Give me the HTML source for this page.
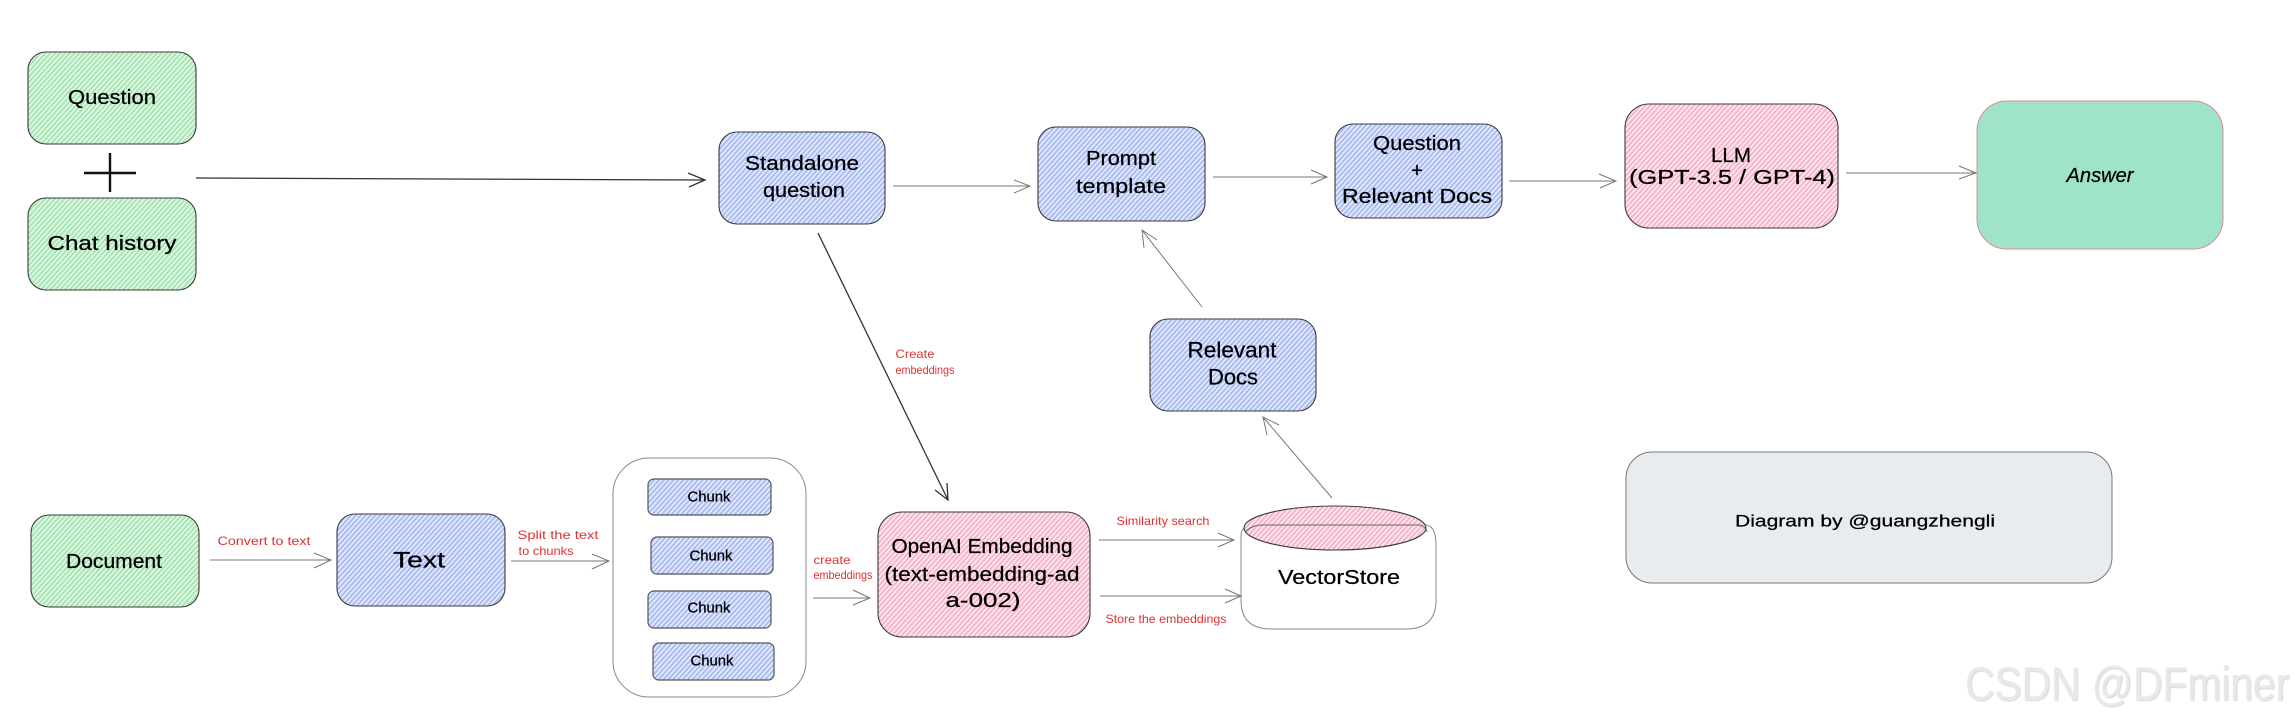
<!DOCTYPE html>
<html>
<head>
<meta charset="utf-8">
<style>
html,body{margin:0;padding:0;background:#fff;width:2295px;height:723px;overflow:hidden}
svg{display:block}
text{font-family:"Liberation Sans",sans-serif;text-anchor:middle;dominant-baseline:central;fill:#000;stroke:#000;stroke-width:.25}
.r{fill:#e03131;stroke:none;font-size:12px}
.m{font-size:20px}
.l{font-size:22px}
.a{fill:none;stroke:#777;stroke-width:1}
.d{fill:none;stroke:#333;stroke-width:1.3}
</style>
</head>
<body>
<svg width="2295" height="723" viewBox="0 0 2295 723" xmlns="http://www.w3.org/2000/svg">
<defs>
<pattern id="g" width="3.6" height="7" patternUnits="userSpaceOnUse" patternTransform="rotate(42)"><rect width="3.6" height="7" fill="#e4f8e7"/><rect width="1.9" height="7" fill="#a5e5b2"/></pattern>
<pattern id="b" width="3.6" height="7" patternUnits="userSpaceOnUse" patternTransform="rotate(42)"><rect width="3.6" height="7" fill="#e6ebfd"/><rect width="1.9" height="7" fill="#a9bcf2"/></pattern>
<pattern id="p" width="3.6" height="7" patternUnits="userSpaceOnUse" patternTransform="rotate(42)"><rect width="3.6" height="7" fill="#fdeaf0"/><rect width="1.9" height="7" fill="#f7b3c8"/></pattern>
<filter id="wm" x="-5%" y="-20%" width="110%" height="140%"><feDropShadow dx=".8" dy=".8" stdDeviation=".5" flood-color="#bbb" flood-opacity=".7"/></filter>
</defs>
<g stroke="#3a3a3a" stroke-width="1.1">
<rect x="28" y="52" width="168" height="92" rx="18" fill="url(#g)"/>
<rect x="28" y="198" width="168" height="92" rx="18" fill="url(#g)"/>
<rect x="31" y="515" width="168" height="92" rx="18" fill="url(#g)"/>
<rect x="719" y="132" width="166" height="92" rx="18" fill="url(#b)"/>
<rect x="1038" y="127" width="167" height="94" rx="18" fill="url(#b)"/>
<rect x="1335" y="124" width="167" height="94" rx="18" fill="url(#b)"/>
<rect x="1150" y="319" width="166" height="92" rx="18" fill="url(#b)"/>
<rect x="337" y="514" width="168" height="92" rx="18" fill="url(#b)"/>
<rect x="1625" y="104" width="213" height="124" rx="24" fill="url(#p)"/>
<rect x="878" y="512" width="212" height="125" rx="24" fill="url(#p)"/>
</g>
<rect x="1977" y="101" width="246" height="148" rx="30" fill="#9fe3c9" stroke="#d98f8f" stroke-width="1"/>
<rect x="1626" y="452" width="486" height="131" rx="26" fill="#e9ecef" stroke="#777" stroke-width="1"/>
<rect x="613" y="458" width="193" height="239" rx="36" fill="#fff" stroke="#888" stroke-width="1"/>
<g stroke="#555" stroke-width="1.2">
<rect x="648" y="479" width="123" height="36" rx="6" fill="url(#b)"/>
<rect x="651" y="537" width="122" height="37" rx="6" fill="url(#b)"/>
<rect x="648" y="591" width="123" height="37" rx="6" fill="url(#b)"/>
<rect x="653" y="643" width="121" height="37" rx="6" fill="url(#b)"/>
</g>
<path d="M1241 535 Q1241 525 1256 525 L1425 525 Q1436 525 1436 545 L1436 600 Q1436 629 1406 629 L1271 629 Q1241 629 1241 600 Z" fill="#fff" stroke="#888" stroke-width="1"/>
<ellipse cx="1335" cy="528" rx="91" ry="22" fill="url(#p)" stroke="#3a3a3a" stroke-width="1.1"/>
<path d="M1245 532 Q1252 525 1262 525 L1420 525 Q1426 527 1427 532" fill="none" stroke="#666" stroke-width="1"/>
<path d="M84 173 H136 M110 153 V192" fill="none" stroke="#111" stroke-width="2.4"/>
<path class="d" d="M196 178 L705 180 M688 173 L705 180 L689 187"/>
<path class="a" d="M893 186 H1030 M1014 180 L1030 186 L1014 193"/>
<path class="a" d="M1213 177 H1327 M1311 170 L1327 177 L1311 184"/>
<path class="a" d="M1509 181 H1616 M1599 174 L1616 181 L1600 188"/>
<path class="a" d="M1846 173 H1976 M1959 166 L1976 173 L1959 179"/>
<path class="a" d="M1202 307 L1142 230 M1144 248 L1142 230 L1157 240"/>
<path class="a" d="M1332 498 L1263 417 M1267 435 L1263 417 L1279 425"/>
<path class="d" d="M818 233 L948 500 M935 490 L948 500 L947 483"/>
<path class="a" d="M210 560 H331 M314 553 L331 560 L314 568"/>
<path class="a" d="M511 561 H609 M592 554 L609 561 L592 569"/>
<path class="a" d="M813 598 H870 M853 590 L870 598 L853 605"/>
<path class="a" d="M1099 540 H1234 M1218 533 L1234 540 L1218 547"/>
<path class="a" d="M1100 596 H1241 M1225 589 L1241 596 L1225 603"/>

<g transform="translate(0,1)">
<text class="m" x="112" y="97" textLength="88" lengthAdjust="spacingAndGlyphs">Question</text>
<text class="m" x="112" y="243" textLength="129" lengthAdjust="spacingAndGlyphs">Chat history</text>
<text class="m" x="802" y="163" textLength="114" lengthAdjust="spacingAndGlyphs">Standalone</text>
<text class="m" x="804" y="190" textLength="82" lengthAdjust="spacingAndGlyphs">question</text>
<text class="m" x="1121" y="158" textLength="70" lengthAdjust="spacingAndGlyphs">Prompt</text>
<text class="m" x="1121" y="186" textLength="90" lengthAdjust="spacingAndGlyphs">template</text>
<text class="m" x="1417" y="143" textLength="88" lengthAdjust="spacingAndGlyphs">Question</text>
<text class="m" x="1417" y="170">+</text>
<text class="m" x="1417" y="196" textLength="150" lengthAdjust="spacingAndGlyphs">Relevant Docs</text>
<text class="m" x="1731" y="155" textLength="40" lengthAdjust="spacingAndGlyphs">LLM</text>
<text class="m" x="1732" y="177" textLength="206" lengthAdjust="spacingAndGlyphs">(GPT-3.5 / GPT-4)</text>
<text class="m" x="2100" y="175" textLength="67" lengthAdjust="spacingAndGlyphs" font-style="italic">Answer</text>
<text class="l" x="1232" y="349" textLength="89" lengthAdjust="spacingAndGlyphs">Relevant</text>
<text class="l" x="1233" y="376" textLength="50" lengthAdjust="spacingAndGlyphs">Docs</text>
<text class="m" x="114" y="561" textLength="96" lengthAdjust="spacingAndGlyphs">Document</text>
<text class="l" x="419" y="559" textLength="52" lengthAdjust="spacingAndGlyphs">Text</text>
<text x="709" y="496" font-size="15" textLength="43" lengthAdjust="spacingAndGlyphs">Chunk</text>
<text x="711" y="555" font-size="15" textLength="43" lengthAdjust="spacingAndGlyphs">Chunk</text>
<text x="709" y="607" font-size="15" textLength="43" lengthAdjust="spacingAndGlyphs">Chunk</text>
<text x="712" y="660" font-size="15" textLength="43" lengthAdjust="spacingAndGlyphs">Chunk</text>
<text class="m" x="982" y="546" textLength="181" lengthAdjust="spacingAndGlyphs">OpenAI Embedding</text>
<text class="m" x="982" y="574" textLength="195" lengthAdjust="spacingAndGlyphs">(text-embedding-ad</text>
<text class="m" x="983" y="600" textLength="75" lengthAdjust="spacingAndGlyphs">a-002)</text>
<text class="m" x="1339" y="577" textLength="122" lengthAdjust="spacingAndGlyphs">VectorStore</text>
<text x="1865" y="520" font-size="17" textLength="260" lengthAdjust="spacingAndGlyphs">Diagram by @guangzhengli</text>

<text class="r" x="264" y="540" textLength="93" lengthAdjust="spacingAndGlyphs">Convert to text</text>
<text class="r" x="558" y="534" textLength="81" lengthAdjust="spacingAndGlyphs">Split the text</text>
<text class="r" x="546" y="550" textLength="55" lengthAdjust="spacingAndGlyphs">to chunks</text>
<text class="r" x="832" y="559" textLength="37" lengthAdjust="spacingAndGlyphs">create</text>
<text class="r" x="843" y="574" textLength="59" lengthAdjust="spacingAndGlyphs">embeddings</text>
<text class="r" x="915" y="353" textLength="39" lengthAdjust="spacingAndGlyphs">Create</text>
<text class="r" x="925" y="369" textLength="59" lengthAdjust="spacingAndGlyphs">embeddings</text>
<text class="r" x="1163" y="520" textLength="93" lengthAdjust="spacingAndGlyphs">Similarity search</text>
<text class="r" x="1166" y="618" textLength="121" lengthAdjust="spacingAndGlyphs">Store the embeddings</text>
</g>

<text x="2127" y="700" font-size="47" textLength="324" lengthAdjust="spacingAndGlyphs" style="fill:#e8e8e8;stroke:none;dominant-baseline:auto" filter="url(#wm)">CSDN @DFminer</text>
</svg>
</body>
</html>
